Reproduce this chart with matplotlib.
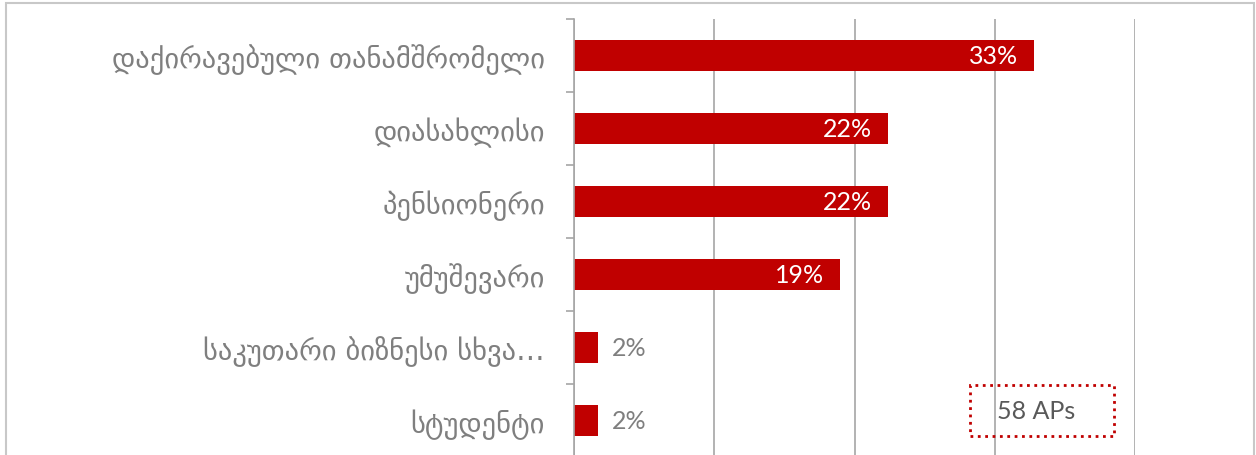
import matplotlib.pyplot as plt
from matplotlib.patches import Rectangle

# data (share of 58 APs, %)
categories = ["დაქირავებული თანამშრომელი", "დიასახლისი", "პენსიონერი",
              "უმუშევარი", "საკუთარი ბიზნესი სხვა…", "სტუდენტი"]
values = [32.8, 22.4, 22.4, 19.0, 1.7, 1.7]
labels = ["33%", "22%", "22%", "19%", "2%", "2%"]
note = "58 APs"

bar_color = "#c00000"
text_gray = "#7f7f7f"
grid_gray = "#a6a6a6"

W, H = 1256, 456
fig = plt.figure(figsize=(W / 100, H / 100), dpi=100)

# outer frame
fig.patches.append(Rectangle((6 / W, -0.05), (1254 - 6) / W, (H - 4) / H + 0.05,
                             transform=fig.transFigure, fill=False,
                             edgecolor="#c8c8c8", linewidth=1.5))

ax = fig.add_axes([574 / W, -2 / H, (1135 - 574) / W, (H - 20 + 2) / H])

y = list(range(len(categories)))
ax.barh(y, values, height=0.42, color=bar_color, zorder=3)
ax.set_xlim(0, 40)
ax.set_ylim(len(categories) - 0.5, -0.5)

ax.set_xticks([0, 10, 20, 30, 40])
ax.xaxis.grid(True, color=grid_gray, linewidth=1.2, zorder=0)
ax.tick_params(axis="x", length=0, labelbottom=False)

ax.set_yticks(y)
ax.set_yticklabels(categories, fontsize=20.5, color=text_gray, family=["DejaVu Sans"])
ax.set_yticks([i - 0.5 for i in range(len(categories) + 1)], minor=True)
ax.tick_params(axis="y", which="major", length=0, pad=21)
ax.tick_params(axis="y", which="minor", length=6, width=1.2, color=grid_gray)

for s in ["top", "right", "bottom"]:
    ax.spines[s].set_visible(False)
ax.spines["left"].set_color(grid_gray)
ax.spines["left"].set_linewidth(1.2)
ax.spines["left"].set_zorder(4)

for yi, v, lab in zip(y, values, labels):
    if v > 10:
        ax.annotate(lab, (v, yi), xytext=(-11.5, 0), textcoords="offset points",
                    ha="right", va="center", color="white", fontsize=18,
                    family=["Lato", "DejaVu Sans"], zorder=5)
    else:
        ax.annotate(lab, (v, yi), xytext=(10, 0), textcoords="offset points",
                    ha="left", va="center", color=text_gray, fontsize=18,
                    family=["Lato", "DejaVu Sans"], zorder=5)

# sample size box
fig.patches.append(Rectangle((970 / W, 1 - 437 / H), (1114 - 970) / W, (437 - 386) / H,
                             transform=fig.transFigure, fill=False,
                             edgecolor=bar_color, linewidth=2, linestyle=":"))
fig.text(997 / W, 1 - 412 / H, note, ha="left", va="center", fontsize=18,
         color="#595959", family=["Lato", "DejaVu Sans"])

fig.savefig("out.png", dpi=100)
